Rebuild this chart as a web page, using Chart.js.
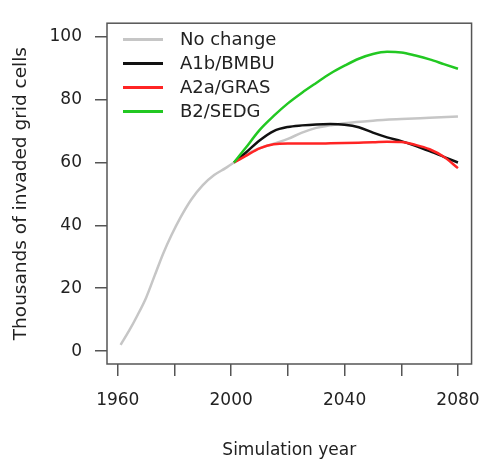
<!DOCTYPE html>
<html>
<head>
<meta charset="utf-8">
<script src="https://cdn.jsdelivr.net/npm/chart.js@4/dist/chart.umd.min.js"></script>
<style>
  html, body { margin: 0; padding: 0; background: #fff; }
  #wrap { width: 494px; height: 459px; position: relative; }
</style>
</head>
<body>
<div id="wrap"><canvas id="chart"></canvas></div>
<script>
// series data (thousands of invaded grid cells)
const seriesNames = ["No change", "A1b/BMBU", "A2a/GRAS", "B2/SEDG"];
const seriesColors = ["#c6c6c6", "#111111", "#ff2424", "#22c822"];

const baseYears = [1961, 1964, 1967, 1970, 1973, 1976, 1979, 1982, 1986, 1990, 1994, 1998, 2001,
    2005, 2010, 2015, 2020, 2025, 2030, 2035, 2040, 2050, 2060, 2070, 2080];
const noChange = [2, 6.5, 11.5, 17, 24, 31, 37, 42.3, 48.3, 52.8, 56, 58.2, 60,
    62.5, 64.5, 66, 67.5, 69.5, 71, 71.8, 72.5, 73.3, 73.8, 74.2, 74.6];

const scenYears = [2001, 2005, 2010, 2015, 2020, 2025, 2030, 2035, 2040, 2045, 2050,
    2055, 2060, 2065, 2070, 2075, 2080];
const a1b = [60, 63, 67, 70, 71.3, 71.8, 72.1, 72.2, 72, 71.2, 69.5,
    68, 66.8, 65.3, 63.6, 61.8, 60];
const a2a = [60, 62, 64.5, 65.8, 66, 66, 66, 66.1, 66.2, 66.3, 66.4,
    66.6, 66.5, 65.6, 64.2, 61.8, 58.2];
const b2 = [60, 64.5, 70.3, 74.8, 78.8, 82.2, 85.3, 88.3, 90.8, 93, 94.5,
    95.2, 95, 94, 92.8, 91.3, 89.8];

// axis ticks
const xTicks = [1960, 1980, 2000, 2020, 2040, 2060, 2080];
const xTickLabels = [1960, 2000, 2040, 2080];
const yTicks = [0, 20, 40, 60, 80, 100];

function pts(xs, ys) {
    return xs.map(function (x, i) { return { x: x, y: ys[i] }; });
}

const seriesData = [pts(baseYears, noChange), pts(scenYears, a1b), pts(scenYears, a2a), pts(scenYears, b2)];
const drawOrder = [4, 3, 2, 1];

const textColor = "#222";
const axisColor = "#555";
const fontFamily = "'DejaVu Sans', sans-serif";

// box around the plot region
const boxPlugin = {
    id: "box",
    afterDraw: function (chart) {
        const a = chart.chartArea;
        const ctx = chart.ctx;
        ctx.save();
        ctx.strokeStyle = axisColor;
        ctx.lineWidth = 1.5;
        ctx.strokeRect(a.left, a.top, a.right - a.left, a.bottom - a.top);
        ctx.restore();
    }
};

// legend drawn inside the plot, top left
const insetLegend = {
    id: "insetLegend",
    afterDatasetsDraw: function (chart) {
        const ctx = chart.ctx;
        ctx.save();
        ctx.font = "18px " + fontFamily;
        ctx.textBaseline = "middle";
        ctx.textAlign = "left";
        chart.data.datasets.forEach(function (ds, i) {
            const y = 39.5 + i * 24;
            ctx.strokeStyle = ds.borderColor;
            ctx.lineWidth = 3;
            ctx.beginPath();
            ctx.moveTo(123, y);
            ctx.lineTo(163, y);
            ctx.stroke();
            ctx.fillStyle = textColor;
            ctx.fillText(ds.label, 180, y + 1);
        });
        ctx.restore();
    }
};

const ctx = document.getElementById("chart").getContext("2d");
const chart = new Chart(ctx, {
    type: "line",
    data: {
        datasets: seriesNames.map(function (name, i) {
            return {
                label: name,
                data: seriesData[i],
                borderColor: seriesColors[i],
                borderWidth: 2.5,
                pointRadius: 0,
                fill: false,
                cubicInterpolationMode: "monotone",
                order: drawOrder[i]
            };
        })
    },
    options: {
        responsive: true,
        maintainAspectRatio: false,
        animation: false,
        layout: { padding: { top: 14, right: 11, left: 0, bottom: 0 } },
        plugins: {
            legend: { display: false },
            tooltip: { enabled: false }
        },
        scales: {
            x: {
                type: "linear",
                min: 1956.2,
                max: 2084.8,
                afterBuildTicks: function (s) {
                    s.ticks = xTicks.map(function (v) { return { value: v }; });
                },
                afterFit: function (s) { s.height = 95; },
                ticks: {
                    color: textColor,
                    font: { family: fontFamily, size: 17 },
                    padding: 14,
                    maxRotation: 0,
                    autoSkip: false,
                    callback: function (v) {
                        return xTickLabels.indexOf(v) >= 0 ? String(v) : "";
                    }
                },
                grid: {
                    drawOnChartArea: false,
                    drawTicks: true,
                    tickLength: 12,
                    color: axisColor,
                    lineWidth: 1.5
                },
                border: { display: false },
                title: {
                    display: true,
                    text: "Simulation year",
                    color: textColor,
                    font: { family: fontFamily, size: 17 },
                    padding: { top: 0, bottom: -2 }
                }
            },
            y: {
                min: -4.1,
                max: 104.3,
                afterBuildTicks: function (s) {
                    s.ticks = yTicks.map(function (v) { return { value: v }; });
                },
                afterFit: function (s) { s.width = 107; },
                ticks: {
                    color: textColor,
                    font: { family: fontFamily, size: 17 },
                    padding: 13
                },
                grid: {
                    drawOnChartArea: false,
                    drawTicks: true,
                    tickLength: 12,
                    color: axisColor,
                    lineWidth: 1.5
                },
                border: { display: false },
                title: {
                    display: true,
                    text: "Thousands of invaded grid cells",
                    color: textColor,
                    font: { family: fontFamily, size: 18.5 },
                    padding: { top: 10, bottom: 0 }
                }
            }
        }
    },
    plugins: [boxPlugin, insetLegend]
});
</script>
</body>
</html>
